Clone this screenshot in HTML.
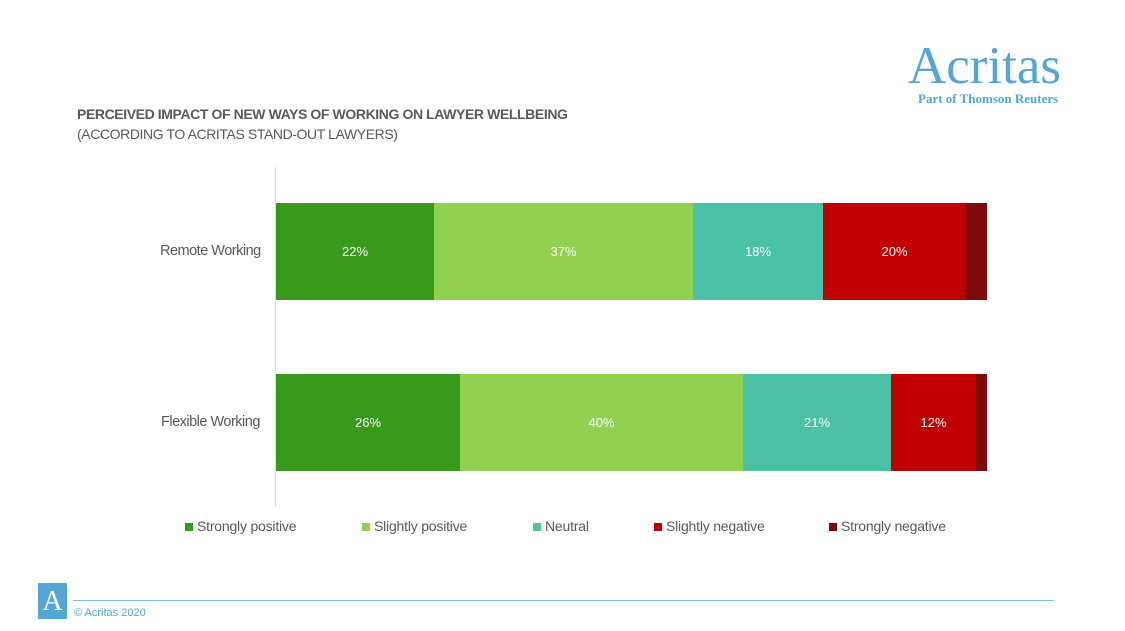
<!DOCTYPE html>
<html><head><style>
body{margin:0;width:1125px;height:631px;background:#fff;position:relative;font-family:"Liberation Sans",sans-serif;overflow:hidden}
.a{position:absolute}
.s{position:absolute;color:#fff;font-size:13px;display:flex;align-items:center;justify-content:center}
.lab{position:absolute;font-size:14.5px;color:#595959;letter-spacing:-0.5px}
.lg{position:absolute;top:518px;font-size:14px;color:#595959;letter-spacing:-0.2px}
.lg i{display:inline-block;width:8px;height:8px;margin-right:4px;vertical-align:0px}
</style></head><body>
<div class="a" style="left:908px;top:37px;font-family:'Liberation Serif',serif;font-size:53px;color:#55a5d5;line-height:58px">Acritas</div>
<div class="a" style="left:918px;top:91px;font-family:'Liberation Serif',serif;font-weight:bold;font-size:13px;color:#55a5d5">Part of Thomson Reuters</div>
<div class="a" style="left:77px;top:106px;font-size:14px;font-weight:bold;color:#595959;letter-spacing:-0.4px">PERCEIVED IMPACT OF NEW WAYS OF WORKING ON LAWYER WELLBEING</div>
<div class="a" style="left:77px;top:126px;font-size:14px;color:#595959;letter-spacing:-0.4px">(ACCORDING TO ACRITAS STAND-OUT LAWYERS)</div>
<div class="a" style="left:275px;top:167px;width:1px;height:340px;background:#d9d9d9"></div>
<div class="lab" style="left:160px;top:243px">Remote Working</div>
<div class="lab" style="left:161px;top:414px">Flexible Working</div>
<div class="s" style="left:276px;top:203px;width:158px;height:97px;background:#379a1a">22%</div>
<div class="s" style="left:434px;top:203px;width:259px;height:97px;background:#92d050">37%</div>
<div class="s" style="left:693px;top:203px;width:130px;height:97px;background:#4bc2a6">18%</div>
<div class="s" style="left:823px;top:203px;width:143px;height:97px;background:#c00000">20%</div>
<div class="s" style="left:966px;top:203px;width:21px;height:97px;background:#7f0a0a"></div>
<div class="s" style="left:276px;top:374px;width:184px;height:97px;background:#379a1a">26%</div>
<div class="s" style="left:460px;top:374px;width:283px;height:97px;background:#92d050">40%</div>
<div class="s" style="left:743px;top:374px;width:148px;height:97px;background:#4bc2a6">21%</div>
<div class="s" style="left:891px;top:374px;width:85px;height:97px;background:#c00000">12%</div>
<div class="s" style="left:976px;top:374px;width:11px;height:97px;background:#7f0a0a"></div>
<div class="lg" style="left:185px"><i style="background:#379a1a"></i>Strongly positive</div>
<div class="lg" style="left:362px"><i style="background:#92d050"></i>Slightly positive</div>
<div class="lg" style="left:533px"><i style="background:#4bc2a6"></i>Neutral</div>
<div class="lg" style="left:654px"><i style="background:#c00000"></i>Slightly negative</div>
<div class="lg" style="left:829px"><i style="background:#7f0a0a"></i>Strongly negative</div>
<div class="a" style="left:38px;top:583px;width:29px;height:36px;background:#55a5d5;color:#fff;font-family:'Liberation Serif',serif;font-size:28px;text-align:center;line-height:38px">A</div>
<div class="a" style="left:73px;top:600px;width:981px;height:1px;background:#7fbde3"></div>
<div class="a" style="left:74px;top:607px;font-size:11px;color:#55a5d5">© Acritas 2020</div>
</body></html>
